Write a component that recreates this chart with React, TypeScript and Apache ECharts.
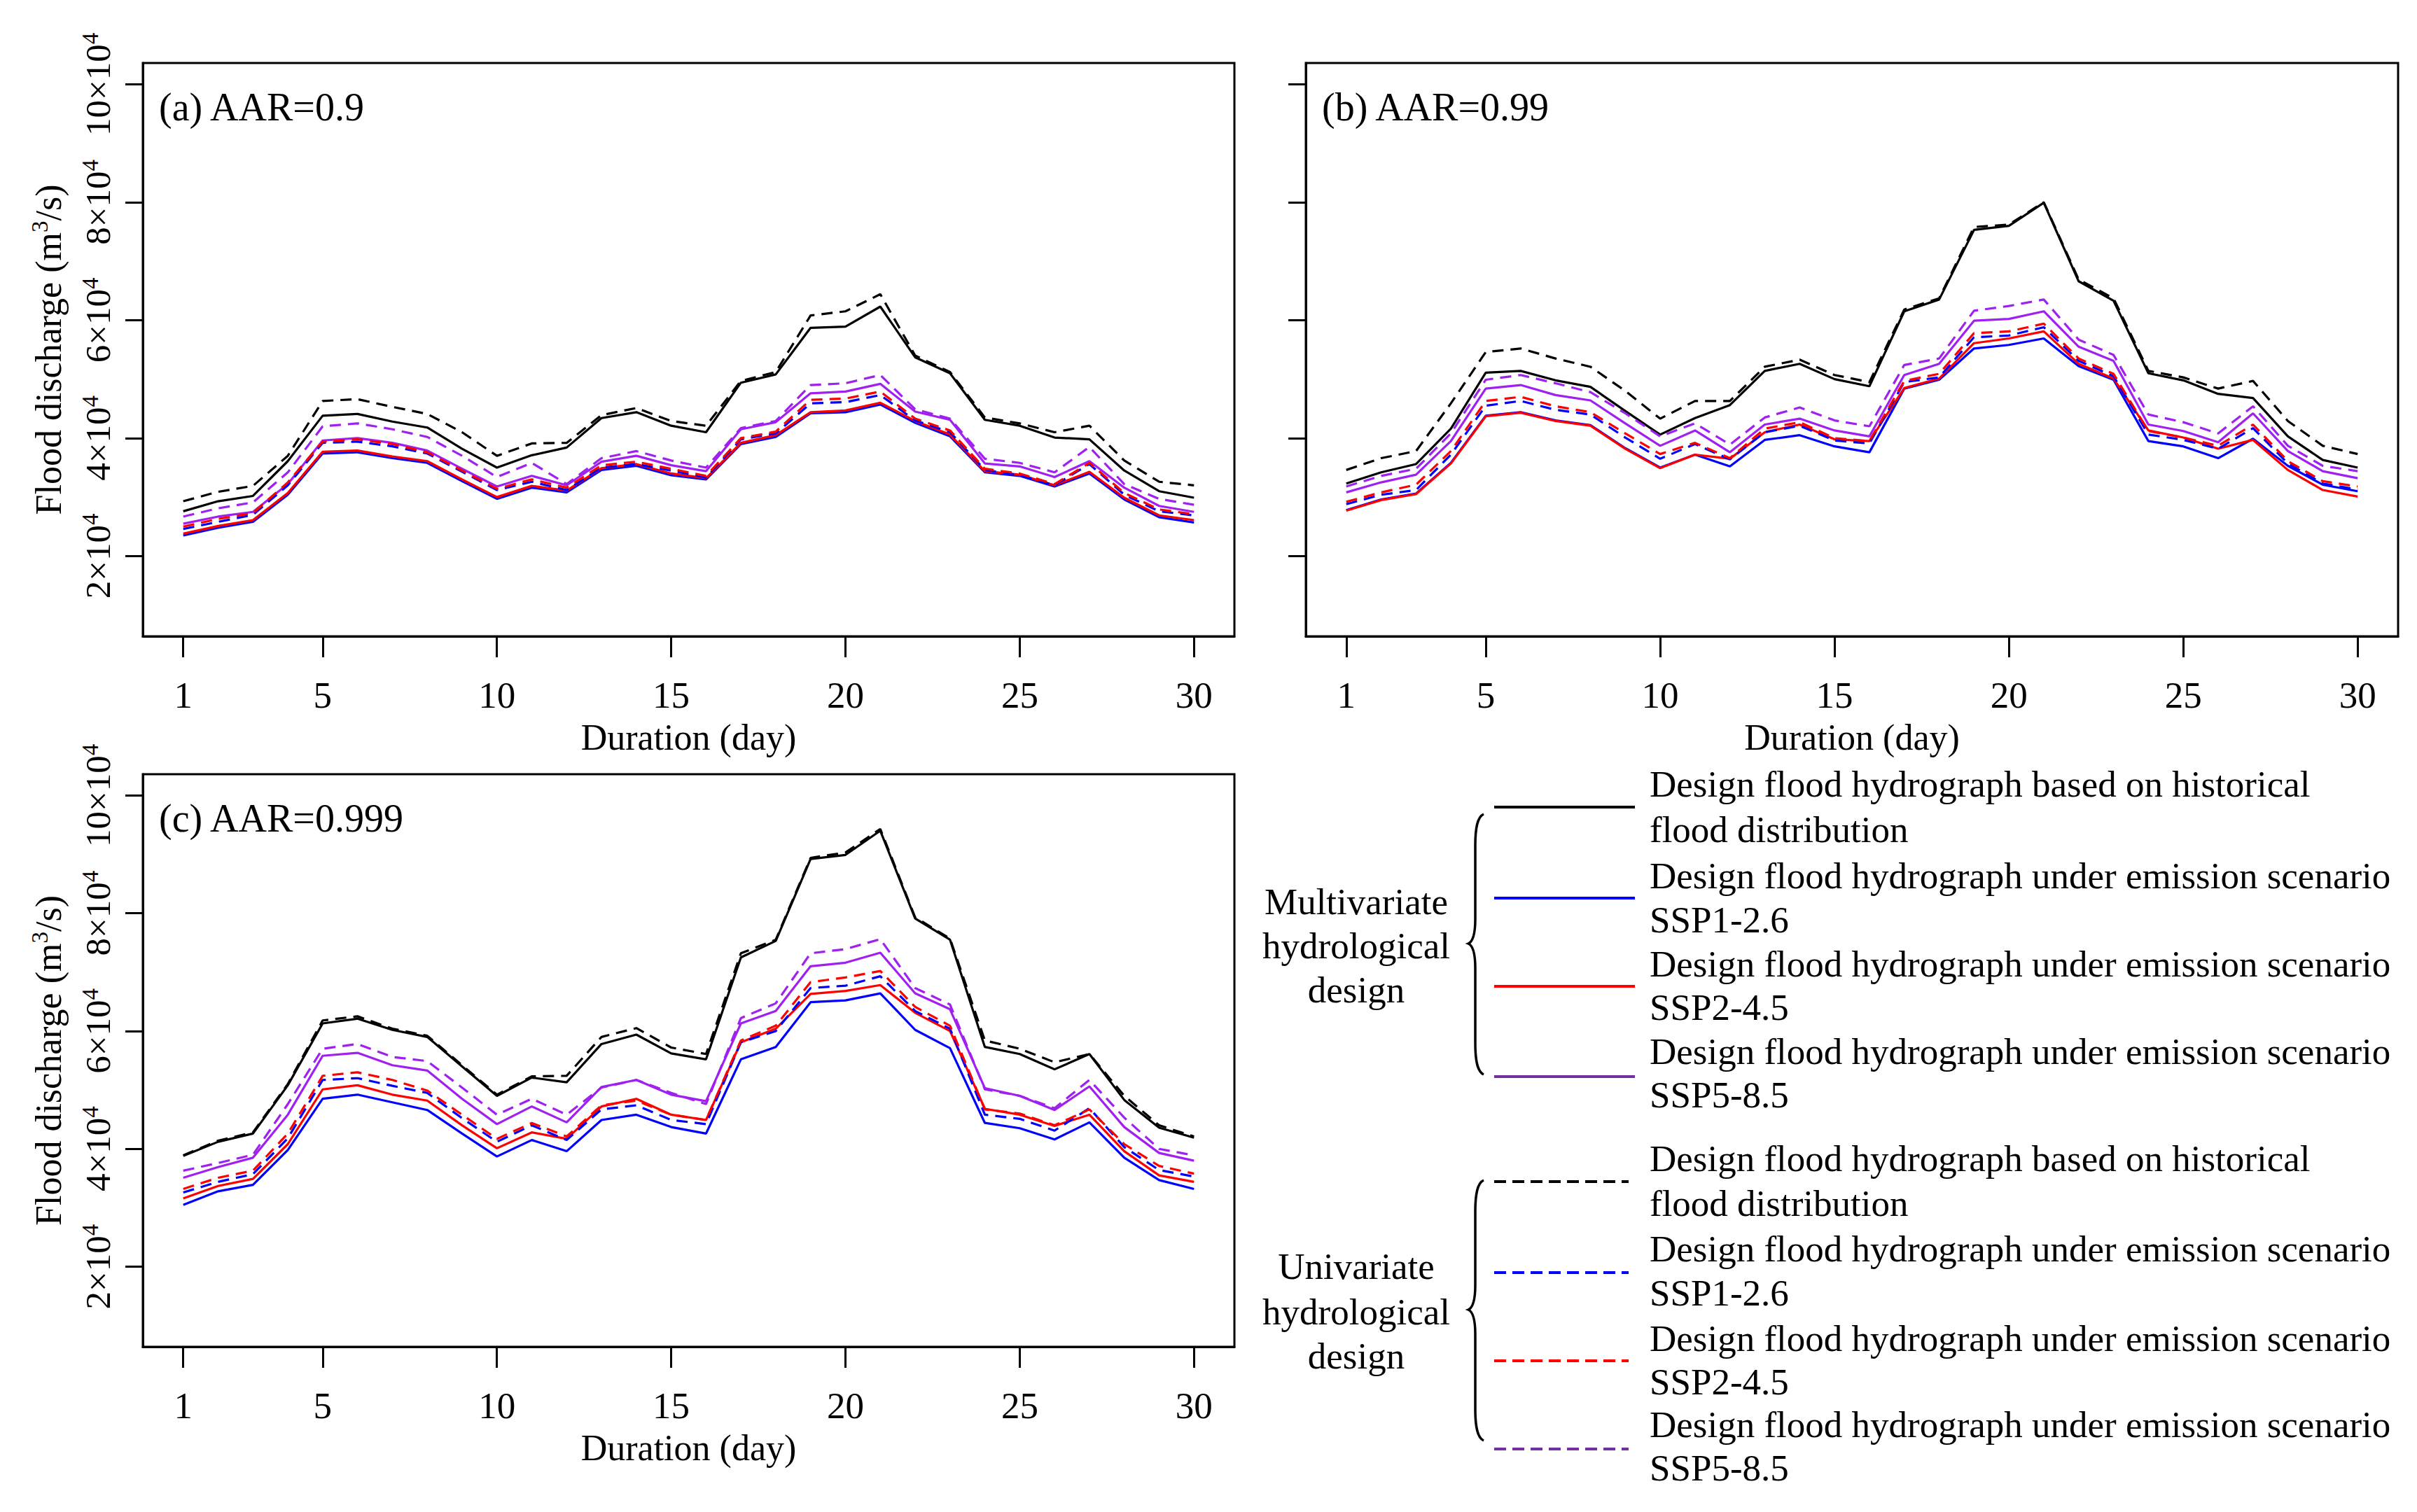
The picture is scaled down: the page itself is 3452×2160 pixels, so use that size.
import React, { useEffect, useRef } from 'react';
import * as echarts from 'echarts';

// Values in units of 10^4 m3/s
const days = [1, 2, 3, 4, 5, 6, 7, 8, 9, 10, 11, 12, 13, 14, 15, 16, 17, 18, 19, 20, 21, 22, 23, 24, 25, 26, 27, 28, 29, 30];
const xTicks = [1, 5, 10, 15, 20, 25, 30];
const yTicks = [2, 4, 6, 8, 10];

// Panel (a) AAR=0.9
const aMultiHist = [2.76, 2.93, 3.02, 3.61, 4.38, 4.41, 4.28, 4.18, 3.82, 3.50, 3.71, 3.84, 4.34, 4.44, 4.21, 4.10, 4.94, 5.08, 5.87, 5.89, 6.23, 5.37, 5.10, 4.31, 4.21, 4.01, 3.98, 3.45, 3.10, 2.99];
const aMultiSSP126 = [2.35, 2.48, 2.58, 3.04, 3.74, 3.76, 3.66, 3.58, 3.27, 2.97, 3.16, 3.08, 3.46, 3.53, 3.37, 3.30, 3.90, 4.02, 4.42, 4.44, 4.57, 4.26, 4.03, 3.42, 3.36, 3.18, 3.40, 2.96, 2.66, 2.57];
const aMultiSSP245 = [2.38, 2.51, 2.61, 3.07, 3.77, 3.79, 3.69, 3.61, 3.30, 3.00, 3.19, 3.11, 3.49, 3.56, 3.40, 3.32, 3.92, 4.05, 4.44, 4.47, 4.60, 4.29, 4.06, 3.44, 3.38, 3.20, 3.43, 2.99, 2.69, 2.61];
const aMultiSSP585 = [2.55, 2.67, 2.75, 3.22, 3.96, 4.00, 3.92, 3.79, 3.48, 3.18, 3.36, 3.20, 3.60, 3.70, 3.54, 3.44, 4.15, 4.27, 4.76, 4.79, 4.92, 4.45, 4.31, 3.57, 3.52, 3.34, 3.61, 3.16, 2.85, 2.75];
const aUniHist = [2.93, 3.09, 3.19, 3.70, 4.63, 4.66, 4.53, 4.41, 4.10, 3.70, 3.91, 3.92, 4.39, 4.51, 4.29, 4.21, 4.97, 5.12, 6.08, 6.15, 6.44, 5.40, 5.12, 4.35, 4.25, 4.10, 4.21, 3.62, 3.26, 3.20];
const aUniSSP126 = [2.46, 2.58, 2.70, 3.20, 3.92, 3.94, 3.86, 3.74, 3.43, 3.12, 3.26, 3.12, 3.50, 3.56, 3.45, 3.33, 3.98, 4.08, 4.59, 4.61, 4.73, 4.30, 4.10, 3.46, 3.37, 3.20, 3.56, 3.04, 2.76, 2.69];
const aUniSSP245 = [2.50, 2.63, 2.73, 3.25, 3.94, 3.98, 3.90, 3.76, 3.45, 3.14, 3.30, 3.16, 3.54, 3.60, 3.48, 3.36, 4.00, 4.11, 4.65, 4.67, 4.79, 4.33, 4.13, 3.48, 3.40, 3.22, 3.58, 3.07, 2.79, 2.71];
const aUniSSP585 = [2.67, 2.81, 2.91, 3.42, 4.20, 4.25, 4.15, 4.02, 3.70, 3.34, 3.58, 3.22, 3.66, 3.78, 3.62, 3.50, 4.17, 4.29, 4.90, 4.93, 5.07, 4.49, 4.33, 3.65, 3.58, 3.42, 3.85, 3.22, 2.97, 2.87];

// Panel (b) AAR=0.99
const bMultiHist = [3.23, 3.42, 3.56, 4.16, 5.11, 5.14, 4.98, 4.87, 4.46, 4.06, 4.34, 4.56, 5.14, 5.26, 5.00, 4.88, 6.15, 6.35, 7.53, 7.60, 7.99, 6.66, 6.33, 5.10, 4.98, 4.75, 4.68, 4.03, 3.63, 3.50];
const bMultiSSP126 = [2.78, 2.96, 3.06, 3.58, 4.38, 4.44, 4.30, 4.22, 3.83, 3.50, 3.72, 3.52, 3.97, 4.05, 3.86, 3.76, 4.84, 4.99, 5.52, 5.58, 5.69, 5.22, 4.99, 3.95, 3.86, 3.66, 3.99, 3.53, 3.21, 3.10];
const bMultiSSP245 = [2.77, 2.95, 3.05, 3.57, 4.37, 4.43, 4.29, 4.21, 3.82, 3.49, 3.72, 3.65, 4.10, 4.23, 3.98, 3.95, 4.85, 5.01, 5.61, 5.69, 5.81, 5.26, 5.01, 4.13, 4.01, 3.82, 3.97, 3.46, 3.12, 3.01];
const bMultiSSP585 = [3.08, 3.25, 3.38, 3.95, 4.84, 4.90, 4.73, 4.64, 4.25, 3.87, 4.13, 3.76, 4.23, 4.33, 4.13, 4.03, 5.07, 5.26, 5.99, 6.02, 6.15, 5.55, 5.31, 4.23, 4.12, 3.93, 4.42, 3.78, 3.44, 3.32];
const bUniHist = [3.46, 3.66, 3.78, 4.59, 5.46, 5.52, 5.35, 5.21, 4.80, 4.33, 4.63, 4.63, 5.21, 5.33, 5.07, 4.95, 6.18, 6.37, 7.58, 7.62, 8.00, 6.69, 6.37, 5.14, 5.03, 4.84, 4.97, 4.29, 3.87, 3.73];
const bUniSSP126 = [2.88, 3.04, 3.12, 3.72, 4.55, 4.63, 4.48, 4.40, 4.01, 3.65, 3.90, 3.64, 4.10, 4.21, 3.96, 3.91, 4.95, 5.03, 5.71, 5.74, 5.88, 5.31, 5.05, 4.06, 3.97, 3.82, 4.17, 3.57, 3.23, 3.13];
const bUniSSP245 = [2.92, 3.08, 3.21, 3.78, 4.63, 4.70, 4.54, 4.44, 4.08, 3.73, 3.92, 3.66, 4.16, 4.27, 4.00, 3.95, 4.97, 5.09, 5.78, 5.81, 5.94, 5.35, 5.09, 4.12, 4.01, 3.87, 4.23, 3.61, 3.27, 3.18];
const bUniSSP585 = [3.18, 3.36, 3.48, 4.08, 4.99, 5.07, 4.93, 4.78, 4.42, 4.03, 4.25, 3.89, 4.35, 4.52, 4.30, 4.20, 5.24, 5.35, 6.16, 6.24, 6.35, 5.67, 5.41, 4.40, 4.27, 4.08, 4.54, 3.87, 3.53, 3.44];

// Panel (c) AAR=0.999
const cMultiHist = [3.88, 4.12, 4.26, 5.08, 6.13, 6.21, 6.02, 5.90, 5.40, 4.90, 5.21, 5.13, 5.78, 5.94, 5.62, 5.52, 7.25, 7.53, 8.92, 8.99, 9.40, 7.91, 7.55, 5.73, 5.61, 5.35, 5.61, 4.83, 4.36, 4.19];
const cMultiSSP126 = [3.05, 3.28, 3.39, 3.98, 4.85, 4.92, 4.79, 4.66, 4.26, 3.87, 4.15, 3.96, 4.49, 4.58, 4.37, 4.26, 5.52, 5.73, 6.49, 6.52, 6.64, 6.02, 5.71, 4.44, 4.35, 4.16, 4.45, 3.85, 3.47, 3.32];
const cMultiSSP245 = [3.16, 3.37, 3.49, 4.08, 5.01, 5.08, 4.92, 4.82, 4.40, 4.01, 4.28, 4.17, 4.72, 4.85, 4.58, 4.49, 5.81, 6.04, 6.63, 6.68, 6.78, 6.31, 6.00, 4.68, 4.58, 4.39, 4.58, 3.96, 3.55, 3.44];
const cMultiSSP585 = [3.51, 3.69, 3.85, 4.58, 5.58, 5.63, 5.42, 5.33, 4.85, 4.42, 4.72, 4.45, 5.05, 5.17, 4.92, 4.81, 6.13, 6.34, 7.10, 7.16, 7.33, 6.64, 6.37, 5.03, 4.90, 4.66, 5.06, 4.37, 3.93, 3.80];
const cUniHist = [3.89, 4.14, 4.28, 5.10, 6.18, 6.25, 6.04, 5.92, 5.42, 4.92, 5.23, 5.24, 5.90, 6.05, 5.72, 5.61, 7.32, 7.55, 8.94, 9.03, 9.43, 7.93, 7.57, 5.84, 5.70, 5.47, 5.61, 4.90, 4.40, 4.21];
const cUniSSP126 = [3.26, 3.44, 3.57, 4.18, 5.17, 5.20, 5.07, 4.95, 4.52, 4.12, 4.40, 4.15, 4.67, 4.74, 4.49, 4.42, 5.81, 6.00, 6.73, 6.77, 6.93, 6.34, 6.04, 4.58, 4.51, 4.31, 4.69, 4.03, 3.64, 3.53];
const cUniSSP245 = [3.32, 3.51, 3.63, 4.26, 5.24, 5.30, 5.17, 4.99, 4.58, 4.17, 4.44, 4.21, 4.74, 4.82, 4.58, 4.49, 5.84, 6.09, 6.83, 6.91, 7.02, 6.41, 6.09, 4.67, 4.60, 4.40, 4.67, 4.08, 3.71, 3.58];
const cUniSSP585 = [3.63, 3.76, 3.90, 4.76, 5.70, 5.78, 5.56, 5.49, 5.04, 4.58, 4.85, 4.58, 5.04, 5.17, 4.95, 4.76, 6.22, 6.47, 7.32, 7.39, 7.56, 6.73, 6.45, 5.01, 4.90, 4.69, 5.17, 4.53, 4.00, 3.89];

const panelLabels = ['(a) AAR=0.9', '(b) AAR=0.99', '(c) AAR=0.999'];
const legendTexts = [
  'Design flood hydrograph based on historical',
  'flood distribution',
  'Design flood hydrograph under emission scenario',
  'SSP1-2.6',
  'Design flood hydrograph under emission scenario',
  'SSP2-4.5',
  'Design flood hydrograph under emission scenario',
  'SSP5-8.5',
];
const groupLabels = [['Multivariate', 'hydrological', 'design'], ['Univariate', 'hydrological', 'design']];

const FONT = "'Liberation Serif', 'Times New Roman', serif";
const BLACK = '#000000';
const BLUE = '#0000FF';
const RED = '#FF0000';
const PURPLE = '#A020F0';
const LEGEND_PURPLE = '#7030A0';
const DASH = [16, 10];

const braceD =
  'M22 0 C13 4 10 20 10 45 L10 150 C10 170 7 182 0 185 C7 188 10 200 10 220 L10 327 C10 352 13 368 22 372';
echarts.graphic.registerShape('brace', echarts.graphic.extendPath(braceD, {}) as any);

export default function App() {
  const ref = useRef<HTMLDivElement>(null);
  useEffect(() => {
    document.body.style.margin = '0';
    const chart = echarts.init(ref.current!, null, { renderer: 'svg' });

    const panels = [
      { left: 204, top: 90, width: 1559, height: 819, yLabels: true,
        data: [aMultiHist, aMultiSSP126, aMultiSSP245, aMultiSSP585, aUniHist, aUniSSP126, aUniSSP245, aUniSSP585] },
      { left: 1865, top: 90, width: 1560, height: 819, yLabels: false,
        data: [bMultiHist, bMultiSSP126, bMultiSSP245, bMultiSSP585, bUniHist, bUniSSP126, bUniSSP245, bUniSSP585] },
      { left: 204, top: 1106, width: 1559, height: 818, yLabels: true,
        data: [cMultiHist, cMultiSSP126, cMultiSSP245, cMultiSSP585, cUniHist, cUniSSP126, cUniSSP245, cUniSSP585] },
    ];
    const colors = [BLACK, BLUE, RED, PURPLE, BLACK, BLUE, RED, PURPLE];
    const dashed = [false, false, false, false, true, true, true, true];
    const names = ['Multi hist', 'Multi SSP1-2.6', 'Multi SSP2-4.5', 'Multi SSP5-8.5', 'Uni hist', 'Uni SSP1-2.6', 'Uni SSP2-4.5', 'Uni SSP5-8.5'];
    const drawOrder = [0, 1, 2, 3, 4, 5, 6, 7];

    const grid = panels.map((p) => ({
      left: p.left, top: p.top, width: p.width, height: p.height,
      show: true, borderColor: BLACK, borderWidth: 3, backgroundColor: 'transparent',
    }));

    const xAxis = panels.map((p, i) => ({
      type: 'value', gridIndex: i, min: -0.16, max: 31.16,
      axisLine: { show: true, onZero: false, lineStyle: { color: BLACK, width: 3 } },
      axisTick: { show: true, length: 30, lineStyle: { color: BLACK, width: 3 }, customValues: xTicks },
      axisLabel: { customValues: xTicks, margin: 57, fontSize: 53, color: BLACK, fontFamily: FONT },
      splitLine: { show: false },
      name: 'Duration (day)', nameLocation: 'middle', nameGap: 118,
      nameTextStyle: { fontSize: 52, color: BLACK, fontFamily: FONT },
    }));

    const yAxis = panels.map((p, i) => ({
      type: 'value', gridIndex: i, min: 0.64, max: 10.36,
      axisLine: { show: true, onZero: false, lineStyle: { color: BLACK, width: 3 } },
      axisTick: { show: true, length: 25, lineStyle: { color: BLACK, width: 3 }, customValues: yTicks },
      axisLabel: {
        show: p.yLabels, customValues: yTicks, rotate: 90, margin: 36,
        formatter: (v: number) => `{n|${v}×10}{s|4}`,
        rich: {
          n: { fontSize: 51, fontFamily: FONT, color: BLACK, lineHeight: 56 },
          s: { fontSize: 33, fontFamily: FONT, color: BLACK, lineHeight: 34, verticalAlign: 'top' },
        },
      },
      splitLine: { show: false },
      name: p.yLabels ? '{n|Flood discharge (m}{s|3}{n|/s)}' : '',
      nameLocation: 'middle', nameRotate: 90, nameGap: 106,
      nameTextStyle: {
        rich: {
          n: { fontSize: 52, fontFamily: FONT, color: BLACK, lineHeight: 58 },
          s: { fontSize: 33, fontFamily: FONT, color: BLACK, lineHeight: 34, verticalAlign: 'top' },
        },
      },
    }));

    const series: any[] = [];
    panels.forEach((p, i) => {
      drawOrder.forEach((k) => {
        series.push({
          type: 'line', name: names[k], xAxisIndex: i, yAxisIndex: i,
          data: days.map((d, j) => [d, p.data[k][j]]),
          showSymbol: false, symbol: 'none', smooth: false,
          lineStyle: { color: colors[k], width: 3.2, type: dashed[k] ? DASH : 'solid' },
          z: 2 + k,
        });
      });
    });

    const graphic: any[] = [];
    const labelPos = [[227, 153], [1888, 153], [227, 1169]];
    panelLabels.forEach((t, i) => {
      graphic.push({
        type: 'text', x: labelPos[i][0], y: labelPos[i][1],
        style: { text: t, fontSize: 56, fontFamily: FONT, fill: BLACK, textVerticalAlign: 'middle' },
      });
    });

    // Legend
    const lineYs = [[1153, 1283, 1409, 1538], [1688, 1818, 1944, 2070]];
    const textYs = [
      [1120, 1185, 1251, 1314, 1377, 1439, 1502, 1564],
      [1655, 1719, 1784, 1847, 1912, 1974, 2035, 2097],
    ];
    const legendColors = [BLACK, BLUE, RED, LEGEND_PURPLE];
    const groupYs = [[1288, 1351, 1414], [1809, 1874, 1937]];
    const braceTops = [1163, 1686];
    [0, 1].forEach((g) => {
      lineYs[g].forEach((y, k) => {
        graphic.push({
          type: 'line',
          shape: { x1: 2134, y1: y, x2: g === 0 ? 2335 : 2326, y2: y },
          style: { stroke: legendColors[k], lineWidth: 4, lineDash: g === 1 ? [17, 9] : null },
        });
      });
      textYs[g].forEach((y, k) => {
        graphic.push({
          type: 'text', x: 2356, y,
          style: { text: legendTexts[k], fontSize: 53, fontFamily: FONT, fill: BLACK, textVerticalAlign: 'middle' },
        });
      });
      groupLabels[g].forEach((t, k) => {
        graphic.push({
          type: 'text', x: 1937, y: groupYs[g][k],
          style: { text: t, fontSize: 53, fontFamily: FONT, fill: BLACK, textAlign: 'center', textVerticalAlign: 'middle' },
        });
      });
      graphic.push({
        type: 'brace', x: 2097, y: braceTops[g],
        style: { fill: 'none', stroke: BLACK, lineWidth: 3.5 },
      });
    });

    chart.setOption({
      animation: false,
      backgroundColor: '#ffffff',
      grid, xAxis, yAxis, series, graphic,
    } as any);
    return () => chart.dispose();
  }, []);
  return <div ref={ref} style={{ width: 3452, height: 2160 }} />;
}
